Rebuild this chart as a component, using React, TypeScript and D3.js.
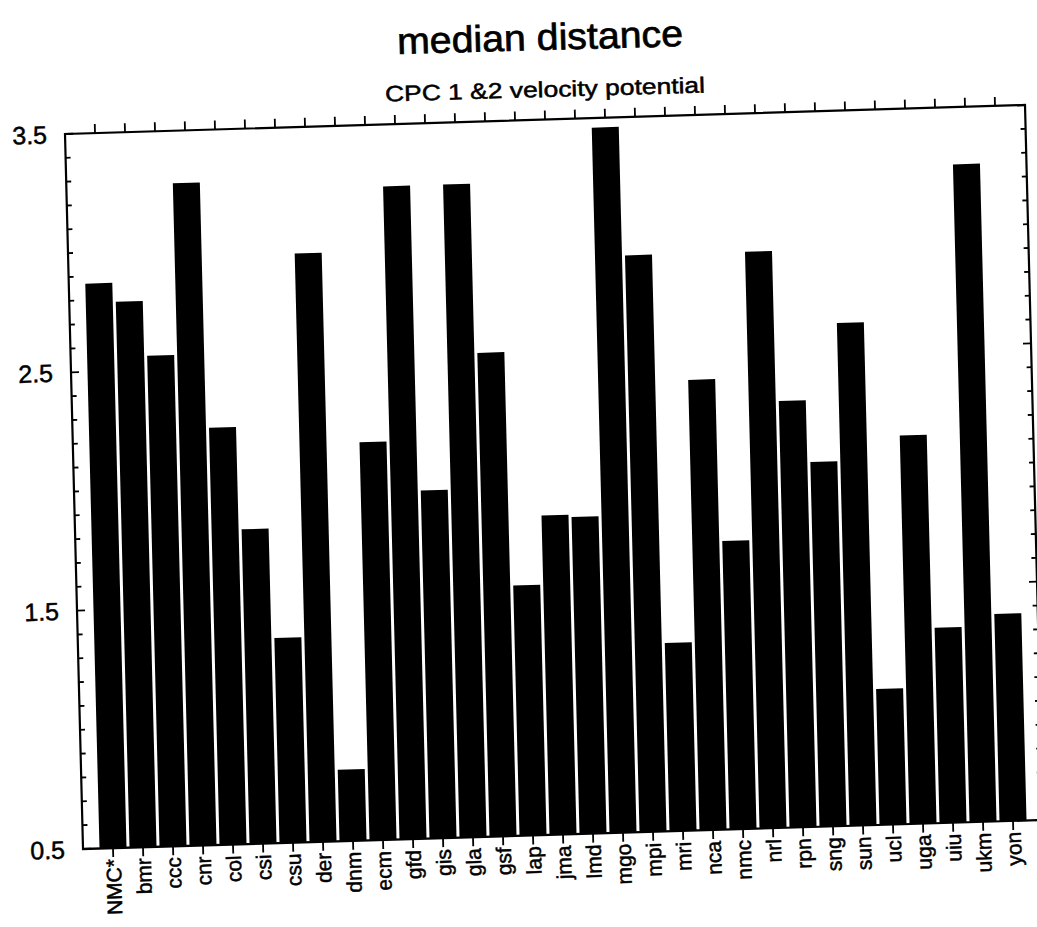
import React from 'react';
import * as d3 from 'd3';

// Models along the x axis
const categories = [
  'NMC*', 'bmr', 'ccc', 'cnr', 'col', 'csi', 'csu', 'der', 'dnm', 'ecm',
  'gfd', 'gis', 'gla', 'gsf', 'lap', 'jma', 'lmd', 'mgo', 'mpi', 'mri',
  'nca', 'nmc', 'nrl', 'rpn', 'sng', 'sun', 'ucl', 'uga', 'uiu', 'ukm', 'yon',
];

// Median distance per model
const medianDistance = [
  2.87, 2.79, 2.56, 3.28, 2.25, 1.82, 1.36, 2.97, 0.80, 2.17,
  3.24, 1.96, 3.24, 2.53, 1.55, 1.84, 1.83, 3.46, 2.92, 1.29,
  2.39, 1.71, 2.92, 2.29, 2.03, 2.61, 1.07, 2.13, 1.32, 3.26, 1.37,
];

const yMajorTicks = [0.5, 1.5, 2.5, 3.5];
const yTickLabels = ['0.5', '1.5', '2.5', '3.5'];

const title = 'median distance';
const subtitle = 'CPC 1 &2 velocity potential';

const W = 1037;
const H = 927;
const PW = 960; // plot frame width
const PH = 715; // plot frame height
const FONT = "'Liberation Sans', Arial, Helvetica, sans-serif";

export default function App() {
  const x = d3.scaleLinear().domain([-1, categories.length]).range([0, PW]);
  const y = d3.scaleLinear().domain([0.5, 3.5]).range([PH, 0]);
  const barW = 27;
  const minorTicks = d3.range(5, 36).filter((d) => d % 10 !== 5).map((d) => d / 10);
  const ink = { fill: '#000', stroke: '#000', strokeWidth: 0.5 };

  return (
    <svg
      width={W}
      height={H}
      style={{ position: 'absolute', left: 0, top: 0, background: '#fff' }}
      fontFamily={FONT}
    >
      <rect width={W} height={H} fill="#fff" />

      <text
        x={540}
        y={50}
        textAnchor="middle"
        fontSize={37}
        textLength={286}
        lengthAdjust="spacingAndGlyphs"
        transform="rotate(-1.6 540 38)"
        {...ink}
        strokeWidth={0.7}
      >
        {title}
      </text>
      <text
        x={545}
        y={97}
        textAnchor="middle"
        fontSize={22}
        textLength={320}
        lengthAdjust="spacingAndGlyphs"
        transform="rotate(-1.6 545 90)"
        {...ink}
      >
        {subtitle}
      </text>

      {/* plot frame, slightly tilted */}
      <g transform="matrix(1,-0.0302,0.0252,1,65,134)">
        {medianDistance.map((v, i) => (
          <rect
            key={categories[i]}
            x={x(i) - barW / 2}
            y={y(v)}
            width={barW}
            height={y(0.5) - y(v)}
            fill="#000"
          />
        ))}

        <rect x={0} y={0} width={PW} height={PH} fill="none" stroke="#000" strokeWidth={2.2} />

        {/* category ticks, top and bottom, outward */}
        {categories.map((c, i) => (
          <g key={'t' + c}>
            <line x1={x(i)} x2={x(i)} y1={0} y2={-9} stroke="#000" strokeWidth={1.8} />
            <line x1={x(i)} x2={x(i)} y1={PH} y2={PH + 9} stroke="#000" strokeWidth={1.8} />
          </g>
        ))}

        {/* value ticks, left and right, inward */}
        {minorTicks.map((t) => (
          <g key={'m' + t}>
            <line x1={0} x2={5} y1={y(t)} y2={y(t)} stroke="#000" strokeWidth={1.8} />
            <line x1={PW} x2={PW - 5} y1={y(t)} y2={y(t)} stroke="#000" strokeWidth={1.8} />
          </g>
        ))}
        {yMajorTicks.map((t) => (
          <g key={'M' + t}>
            <line x1={0} x2={8} y1={y(t)} y2={y(t)} stroke="#000" strokeWidth={1.8} />
            <line x1={PW} x2={PW - 8} y1={y(t)} y2={y(t)} stroke="#000" strokeWidth={1.8} />
          </g>
        ))}

        {yMajorTicks.map((t, i) => (
          <text
            key={'l' + t}
            x={-18}
            y={y(t)}
            textAnchor="end"
            dominantBaseline="central"
            fontSize={25}
            {...ink}
          >
            {yTickLabels[i]}
          </text>
        ))}

        {categories.map((c, i) => (
          <text
            key={'c' + c}
            transform={`translate(${x(i)},${PH + 11}) rotate(-90)`}
            textAnchor="end"
            dominantBaseline="central"
            fontSize={21}
            {...ink}
          >
            {c}
          </text>
        ))}
      </g>
    </svg>
  );
}
